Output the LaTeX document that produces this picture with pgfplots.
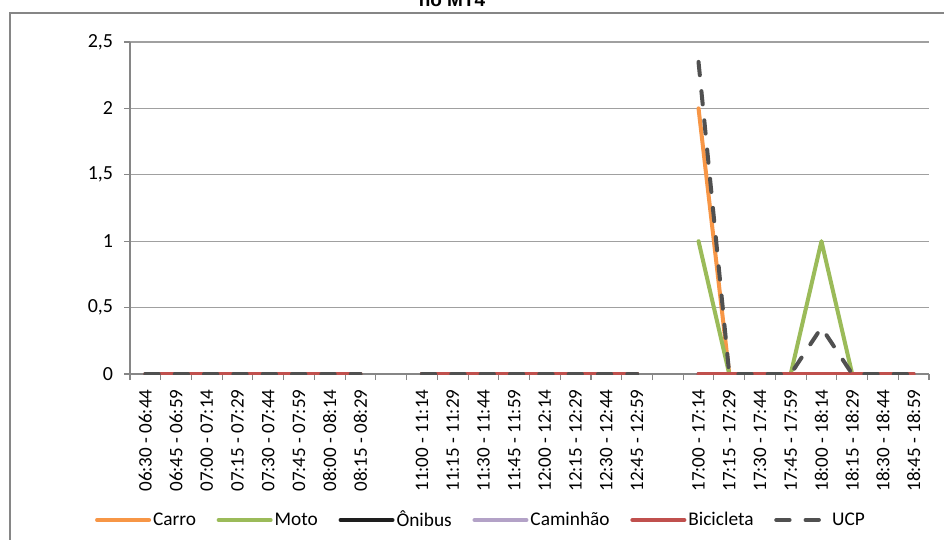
\documentclass[border=0pt]{standalone}
\usepackage{fontspec}
\setmainfont{Carlito}
\newfontfamily\titlefont{Liberation Sans}
\usepackage{pgfplots}
\usepackage{pgfplotstable}
\pgfplotsset{compat=1.18}

\definecolor{carro}{HTML}{F79646}
\definecolor{moto}{HTML}{9BBB59}
\definecolor{onibus}{HTML}{1E1E1E}
\definecolor{caminhao}{HTML}{B3A2C7}
\definecolor{bicicleta}{HTML}{C0504D}
\definecolor{ucp}{HTML}{505050}
\definecolor{axisgray}{HTML}{868686}
\definecolor{gridgray}{HTML}{A0A0A0}

% Volumes per 15-minute interval; nan rows separate the three periods
\pgfplotstableread{
x  carro moto onibus caminhao bicicleta ucp
0  0 0 0 0 0 0
1  0 0 0 0 0 0
2  0 0 0 0 0 0
3  0 0 0 0 0 0
4  0 0 0 0 0 0
5  0 0 0 0 0 0
6  0 0 0 0 0 0
7  0 0 0 0 0 0
8  nan nan nan nan nan nan
9  0 0 0 0 0 0
10 0 0 0 0 0 0
11 0 0 0 0 0 0
12 0 0 0 0 0 0
13 0 0 0 0 0 0
14 0 0 0 0 0 0
15 0 0 0 0 0 0
16 0 0 0 0 0 0
17 nan nan nan nan nan nan
18 2 1 0 0 0 2.35
19 0 0 0 0 0 0
20 0 0 0 0 0 0
21 0 0 0 0 0 0
22 0 1 0 0 0 0.35
23 0 0 0 0 0 0
24 0 0 0 0 0 0
25 0 0 0 0 0 0
}\fluxo

\begin{document}
\begin{tikzpicture}
\useasboundingbox (0,0) rectangle (708pt,404.25pt);
\clip (0,0) rectangle (708pt,404.25pt);
\fill[white] (0,0) rectangle (708pt,404.25pt);
\draw[axisgray, line width=0.8pt] (7.5pt,-5pt) |- (715pt,394.5pt);
\node[anchor=base, font=\titlefont\bfseries\fontsize{14.25}{16}\selectfont] at (339pt,399.5pt) {no MT4};
\begin{axis}[
  scale only axis,
  width=599.25pt, height=249pt,
  at={(97.5pt,123.75pt)}, anchor=south west,
  xmin=-0.5, xmax=25.5, ymin=0, ymax=2.5,
  axis x line=bottom, axis y line=left,
  axis line style={-, axisgray, line width=0.8pt},
  tick align=outside,
  major tick length=4.5pt, minor tick length=4.5pt,
  tick style={axisgray, line width=0.8pt},
  ytick={0,0.5,1,1.5,2,2.5},
  yticklabels={0,{0,5},1,{1,5},2,{2,5}},
  ymajorgrids, grid style={gridgray, line width=0.8pt},
  xtick={0,1,2,3,4,5,6,7,9,10,11,12,13,14,15,16,18,19,20,21,22,23,24,25},
  xticklabels={06:30 - 06:44,06:45 - 06:59,07:00 - 07:14,07:15 - 07:29,07:30 - 07:44,07:45 - 07:59,08:00 - 08:14,08:15 - 08:29,
    11:00 - 11:14,11:15 - 11:29,11:30 - 11:44,11:45 - 11:59,12:00 - 12:14,12:15 - 12:29,12:30 - 12:44,12:45 - 12:59,
    17:00 - 17:14,17:15 - 17:29,17:30 - 17:44,17:45 - 17:59,18:00 - 18:14,18:15 - 18:29,18:30 - 18:44,18:45 - 18:59},
  minor xtick={-0.5,0.5,...,25.5},
  major x tick style={draw=none},
  xticklabel style={rotate=90, anchor=east, inner sep=0pt, font=\fontsize{14.3}{16}\selectfont},
  xticklabel shift=7pt,
  yticklabel style={anchor=east, inner sep=0pt, font=\fontsize{15}{17}\selectfont},
  yticklabel shift=8pt,
  unbounded coords=jump,
  every axis plot/.append style={line width=3pt, line join=round, line cap=round},
  legend columns=6,
  legend style={draw=none, fill=none, at={(0.4393,-0.4398)}, anchor=center,
    font=\fontsize{14.5}{16}\selectfont,
    /tikz/every even column/.append style={column sep=14pt},
    nodes={inner sep=1.5pt}},
  legend image code/.code={\draw[#1] (0pt,0pt) -- (39pt,0pt);},
]
\addplot[carro] table[x=x, y=carro] {\fluxo};
\addlegendentry{Carro}
\addplot[moto] table[x=x, y=moto] {\fluxo};
\addlegendentry{Moto}
\addplot[onibus] table[x=x, y=onibus] {\fluxo};
\addlegendentry{Ônibus}
\addplot[caminhao] table[x=x, y=caminhao] {\fluxo};
\addlegendentry{Caminhão}
\addplot[bicicleta] table[x=x, y=bicicleta] {\fluxo};
\addlegendentry{Bicicleta}
\addplot[ucp, dash pattern=on 10pt off 12pt] table[x=x, y=ucp] {\fluxo};
\addlegendentry{UCP}
\end{axis}
\end{tikzpicture}
\end{document}
